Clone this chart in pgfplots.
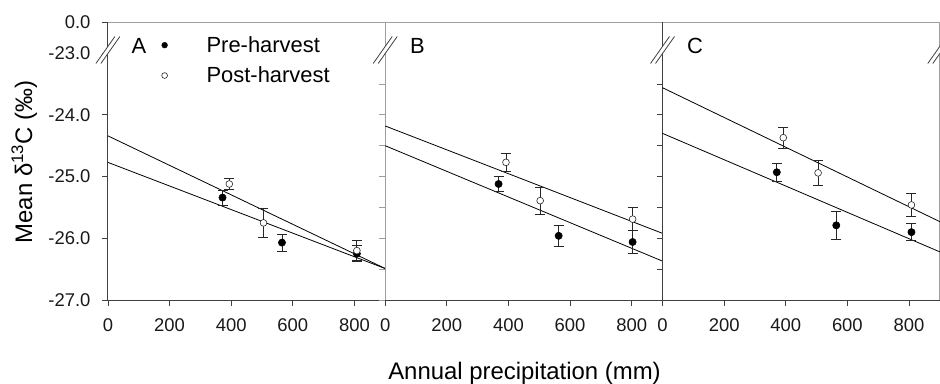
\documentclass[border=0pt]{standalone}
\usepackage{fontspec}
\setmainfont{Liberation Sans}
\usepackage{pgfplots}
\pgfplotsset{compat=1.18}
\definecolor{spD}{gray}{0.25}
\definecolor{spL}{gray}{0.62}
\pgfplotsset{
  panel/.style={
    scale only axis, width=277.3bp, height=277.7bp,
    xmin=0, xmax=900, ymin=-27, ymax=-22.5,
    axis line style={draw=none},
    tick align=outside, xtick pos=left, ytick pos=left,
    major tick length=6bp,
    xtick={0,200,400,600,800},
    tick style={spD, line width=0.8bp},
    ticklabel style={font=\fontsize{18.5}{20}\selectfont, text=black!90},
    xticklabel style={yshift=-9bp},
    yticklabel style={xshift=-8bp},
    /pgf/number format/assume math mode=true,
    clip=false, anchor=south west,
  },
  regl/.style={black, line width=0.8bp},
  ebars/.style={
    error bars/y dir=both, error bars/y explicit,
    error bars/error bar style={black!85, line width=0.8bp},
    error bars/error mark options={rotate=90, mark size=5bp, black!85, line width=0.8bp}},
  pre/.style={only marks, mark=*, mark size=3.6bp, mark options={draw=black, fill=black, line width=0.6bp}, ebars},
  post/.style={only marks, mark=*, mark size=3.4bp, mark options={draw=black!85, fill=white, line width=0.6bp}, ebars},
}
\begin{document}
\begin{tikzpicture}
\useasboundingbox (0bp,0bp) rectangle (940bp,384bp);

% Panel A
\begin{axis}[panel, at={(107.9bp,84bp)},
  ytick={-27,-26,-25,-24,-23,-22.5},
  yticklabels={-27.0,-26.0,-25.0,-24.0,-23.0,0.0},
  legend style={draw=none, fill=none, at={(rel axis cs:0.157,0.964)}, anchor=north west,
    font=\fontsize{22}{24}\selectfont, row sep=9bp},
  legend cell align=left,
  legend image code/.code={\path[draw=none, fill=none] (-10bp,0bp) -- (40bp,0bp); \draw[#1] (0bp,0bp) circle (2.9bp);},
]
\draw[spD, line width=0.9bp] (rel axis cs:0,0) -- (rel axis cs:1,0);
\draw[spL, line width=0.9bp] (rel axis cs:0,1) -- (rel axis cs:1,1);
\draw[spD, line width=0.9bp] (rel axis cs:0,0) -- (rel axis cs:0,1);
\addlegendimage{draw=black, fill=black}
\addlegendentry{Pre-harvest}
\addlegendimage{draw=black!85, fill=white, line width=0.6bp}
\addlegendentry{Post-harvest}
\addplot[regl, forget plot] coordinates {(0,-24.34) (900,-26.49)};
\addplot[regl, forget plot] coordinates {(0,-24.77) (900,-26.49)};
\addplot[forget plot, pre] table[y error=e] {
x y e
372 -25.34 0.12
565 -26.07 0.14
808 -26.25 0.13
};
\addplot[forget plot, post] table[y error=e] {
x y e
394 -25.12 0.09
505 -25.75 0.24
808 -26.20 0.16
};
\node[font=\fontsize{22}{24}\selectfont] at (rel axis cs:0.112,0.915) {A};
\end{axis}

% Panel B
\begin{axis}[panel, at={(385.2bp,84bp)},
  ytick={-27,-26.5,-26,-25.5,-25,-24.5,-24,-23.5},
  yticklabels={},
  ytick style={spL, line width=0.8bp},
]
\draw[spD, line width=0.9bp] (rel axis cs:0,0) -- (rel axis cs:1,0);
\draw[spL, line width=0.9bp] (rel axis cs:0,1) -- (rel axis cs:1,1);
\draw[spL, line width=0.9bp] (rel axis cs:0,0) -- (rel axis cs:0,1);
\addplot[regl] coordinates {(0,-24.18) (900,-25.92)};
\addplot[regl] coordinates {(0,-24.50) (900,-26.37)};
\addplot[pre] table[y error=e] {
x y e
368 -25.12 0.12
563 -25.96 0.17
803 -26.06 0.18
};
\addplot[post] table[y error=e] {
x y e
392 -24.77 0.15
503 -25.39 0.22
803 -25.69 0.19
};
\node[font=\fontsize{22}{24}\selectfont] at (rel axis cs:0.1165,0.915) {B};
\end{axis}

% Panel C
\begin{axis}[panel, at={(662.5bp,84bp)},
  ytick={-27,-26.5,-26,-25.5,-25,-24.5,-24,-23.5},
  yticklabels={},
]
\draw[spD, line width=0.9bp] (rel axis cs:0,0) -- (rel axis cs:1,0);
\draw[spL, line width=0.9bp] (rel axis cs:0,1) -- (rel axis cs:1,1);
\draw[spD, line width=0.9bp] (rel axis cs:0,0) -- (rel axis cs:0,1);
\draw[spL, line width=0.9bp] (rel axis cs:1,0) -- (rel axis cs:1,1);
\addplot[regl] coordinates {(0,-23.56) (900,-25.73)};
\addplot[regl] coordinates {(0,-24.30) (900,-26.22)};
\addplot[pre] table[y error=e] {
x y e
371 -24.93 0.15
564 -25.79 0.22
808 -25.90 0.14
};
\addplot[post] table[y error=e] {
x y e
392 -24.37 0.17
505 -24.94 0.21
808 -25.46 0.18
};
\node[font=\fontsize{22}{24}\selectfont] at (rel axis cs:0.117,0.915) {C};
\end{axis}

% axis breaks
\foreach \cx in {107.9,385.2,662.5,939.8}{
  \fill[white] ({(\cx-12)*1bp},320.5bp) -- ({(\cx+7)*1bp},347.5bp) -- ({(\cx+12)*1bp},347.5bp) -- ({(\cx-7)*1bp},320.5bp) -- cycle;
  \draw[spD, line width=0.8bp] ({(\cx-12)*1bp},320.5bp) -- ({(\cx+7)*1bp},347.5bp);
  \draw[spD, line width=0.8bp] ({(\cx-7)*1bp},320.5bp) -- ({(\cx+12)*1bp},347.5bp);
}

% axis titles
\node[rotate=90, anchor=base, font=\fontsize{24}{26}\selectfont] at (32bp,222bp) {Mean δ\textsuperscript{13}C (‰)};
\node[anchor=base, font=\fontsize{24}{26}\selectfont] at (524.5bp,5bp) {Annual precipitation (mm)};
\end{tikzpicture}
\end{document}
